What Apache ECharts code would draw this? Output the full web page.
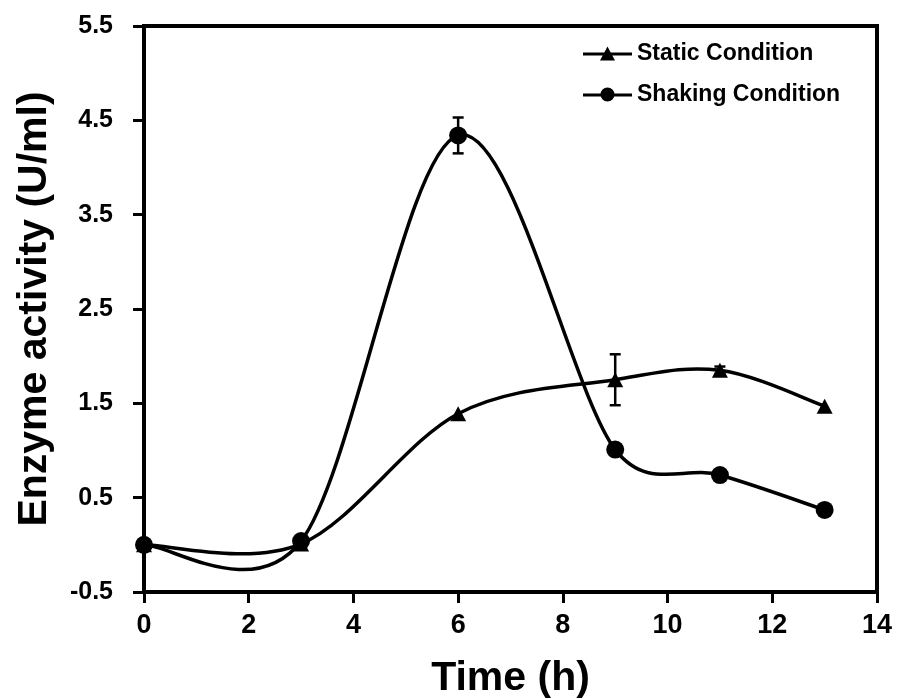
<!DOCTYPE html>
<html>
<head>
<meta charset="utf-8">
<script src="https://cdn.jsdelivr.net/npm/echarts@6/dist/echarts.min.js"></script>
<style>
html,body{margin:0;padding:0;background:#fff;}
#main{width:897px;height:699px;}
</style>
</head>
<body>
<div id="main"></div>
<script>
var timeH = [0, 3, 6, 9, 11, 13];
var staticVals = [0, 0.01, 1.39, 1.75, 1.85, 1.47];
var staticErr = [0, 0, 0, 0.27, 0.04, 0];
var shakingVals = [0, 0.04, 4.34, 1.01, 0.74, 0.37];
var shakingErr = [0, 0, 0.19, 0, 0, 0];
var yTicks = [-0.5, 0.5, 1.5, 2.5, 3.5, 4.5, 5.5];

var myChart = echarts.init(document.getElementById('main'));
var fontFam = "'Liberation Sans', Arial, sans-serif";

function pairs(ys) {
    return timeH.map(function (x, i) { return [x, ys[i]]; });
}
function errData(ys, es) {
    var out = [];
    for (var i = 0; i < ys.length; i++) {
        if (es[i] > 0) out.push([timeH[i], ys[i], es[i]]);
    }
    return out;
}
function dist(a, b) {
    return Math.sqrt((a[0] - b[0]) * (a[0] - b[0]) + (a[1] - b[1]) * (a[1] - b[1]));
}

// smoothed line like a spreadsheet: bezier, tangent 1/6 but capped at half the segment
function splineRender(ys) {
    return function (params, api) {
        if (params.dataIndex !== 0) return;
        var p = timeH.map(function (x, i) { return api.coord([x, ys[i]]); });
        var kids = [];
        for (var i = 0; i < p.length - 1; i++) {
            var p0 = p[i > 0 ? i - 1 : i], p1 = p[i], p2 = p[i + 1], p3 = p[i + 2 < p.length ? i + 2 : i + 1];
            var d12 = dist(p1, p2), d02 = dist(p0, p2), d13 = dist(p1, p3);
            var f1 = 1 / 6, f2 = 1 / 6;
            if (d02 / 6 > d12 / 2) f1 = d12 / (2 * d02);
            if (d13 / 6 > d12 / 2) f2 = d12 / (2 * d13);
            kids.push({
                type: 'bezierCurve',
                shape: {
                    x1: p1[0], y1: p1[1], x2: p2[0], y2: p2[1],
                    cpx1: p1[0] + (p2[0] - p0[0]) * f1, cpy1: p1[1] + (p2[1] - p0[1]) * f1,
                    cpx2: p2[0] - (p3[0] - p1[0]) * f2, cpy2: p2[1] - (p3[1] - p1[1]) * f2
                },
                style: { stroke: '#000', lineWidth: 3.5, fill: null }
            });
        }
        return { type: 'group', children: kids };
    };
}

function errRender(params, api) {
    var x = api.value(0), y = api.value(1), e = api.value(2);
    var hi = api.coord([x, y + e]), lo = api.coord([x, y - e]);
    var st = { stroke: '#000', lineWidth: 2.5 };
    return {
        type: 'group',
        children: [
            { type: 'line', shape: { x1: hi[0], y1: hi[1], x2: lo[0], y2: lo[1] }, style: st },
            { type: 'line', shape: { x1: hi[0] - 5.5, y1: hi[1], x2: hi[0] + 5.5, y2: hi[1] }, style: st },
            { type: 'line', shape: { x1: lo[0] - 5.5, y1: lo[1], x2: lo[0] + 5.5, y2: lo[1] }, style: st }
        ]
    };
}

option = {
    backgroundColor: '#fff',
    animation: false,
    grid: {
        left: 144,
        right: 20,
        top: 26,
        bottom: 107,
        outerBoundsMode: 'none',
        containLabel: false,
        show: true,
        borderColor: '#000',
        borderWidth: 4
    },
    legend: {
        orient: 'vertical',
        left: 578,
        top: 37,
        itemGap: 18,
        itemWidth: 49,
        itemHeight: 14,
        textStyle: { color: '#000', fontSize: 23, fontWeight: 'bold', fontFamily: fontFam },
        data: [
            { name: 'Static Condition', icon: 'path://M0,6h49v3h-49z M17,14 L24.5,0 L32,14 z', itemStyle: { opacity: 1 } },
            { name: 'Shaking Condition', icon: 'path://M0,6h49v3h-49z M17.5,7 A7,7 0 1,1 31.5,7 A7,7 0 1,1 17.5,7 z', itemStyle: { opacity: 1 } }
        ]
    },
    xAxis: {
        type: 'value',
        min: 0,
        max: 14,
        interval: 2,
        name: 'Time (h)',
        nameLocation: 'middle',
        nameGap: 66,
        nameTextStyle: { color: '#000', fontSize: 41, fontWeight: 'bold', fontFamily: fontFam },
        splitLine: { show: false },
        axisLine: { onZero: false, lineStyle: { color: '#000', width: 4 } },
        axisTick: { inside: false, length: 11, lineStyle: { color: '#000', width: 3 } },
        axisLabel: { color: '#000', fontSize: 27, fontWeight: 'bold', fontFamily: fontFam, margin: 20 }
    },
    yAxis: [{
        type: 'value',
        min: -0.5,
        max: 5.5,
        interval: 0.5,
        name: 'Enzyme activity (U/ml)',
        nameLocation: 'middle',
        nameGap: 89,
        nameTextStyle: { color: '#000', fontSize: 41, fontWeight: 'bold', fontFamily: fontFam },
        splitLine: { show: false },
        axisLine: { onZero: false, lineStyle: { color: '#000', width: 4 } },
        axisTick: { show: false },
        axisLabel: { show: false }
    }, {
        // tick/label layer: 0..6 sits exactly on -0.5..5.5
        type: 'value',
        position: 'left',
        min: 0,
        max: 6,
        interval: 1,
        splitLine: { show: false },
        axisLine: { show: false },
        axisTick: { length: 11, lineStyle: { color: '#000', width: 3 } },
        axisLabel: {
            color: '#000', fontSize: 25, fontWeight: 'bold', fontFamily: fontFam, margin: 31,
            formatter: function (v) { return yTicks[Math.round(v)].toFixed(1); }
        }
    }],
    series: [
        { type: 'custom', data: [[timeH[0], staticVals[0]]], renderItem: splineRender(staticVals), silent: true, z: 3 },
        { type: 'custom', data: [[timeH[0], shakingVals[0]]], renderItem: splineRender(shakingVals), silent: true, z: 3 },
        { type: 'custom', data: errData(staticVals, staticErr), renderItem: errRender, z: 4 },
        { type: 'custom', data: errData(shakingVals, shakingErr), renderItem: errRender, z: 4 },
        {
            name: 'Static Condition',
            type: 'scatter',
            data: pairs(staticVals),
            symbol: 'triangle',
            symbolSize: [16, 15],
            itemStyle: { color: '#000', opacity: 1 },
            z: 6
        },
        {
            name: 'Shaking Condition',
            type: 'scatter',
            data: pairs(shakingVals),
            symbol: 'circle',
            symbolSize: 18,
            itemStyle: { color: '#000', opacity: 1 },
            z: 6
        }
    ]
};

myChart.setOption(option);
window.onresize = myChart.resize;
</script>
</body>
</html>
